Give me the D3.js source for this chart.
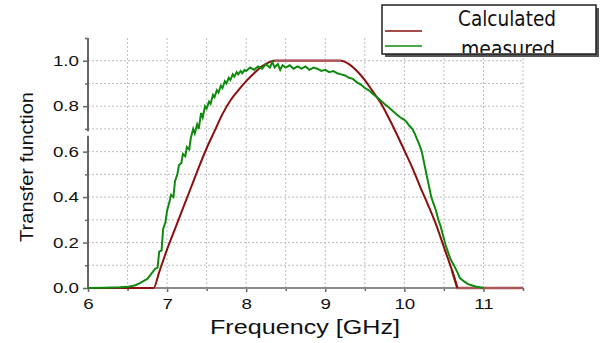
<!DOCTYPE html>
<html>
<head>
<meta charset="utf-8">
<script src="https://cdn.jsdelivr.net/npm/d3@7"></script>
<style>
  body { margin: 0; background: #fff; }
  svg { display: block; font-family: "Liberation Sans", Arial, sans-serif; }
</style>
</head>
<body>
<svg width="601" height="343"></svg>
<script>
// calculated transfer function (dark red)
const calcFreq = [6.0, 6.83, 6.9, 7.0, 7.1, 7.2, 7.3, 7.4, 7.5, 7.6, 7.7, 7.8, 7.9, 8.0, 8.1, 8.2, 8.3, 8.36,
  9.2, 9.3, 9.4, 9.5, 9.6, 9.7, 9.8, 9.9, 10.0, 10.1, 10.2, 10.3, 10.4, 10.5, 10.6, 10.67, 11.5];
const calcVal = [0, 0, 0.07, 0.17, 0.26, 0.35, 0.44, 0.53, 0.615, 0.69, 0.765, 0.825, 0.87, 0.91, 0.945, 0.975, 0.995, 1.0,
  1.0, 0.985, 0.955, 0.915, 0.865, 0.815, 0.75, 0.68, 0.605, 0.53, 0.445, 0.365, 0.28, 0.18, 0.08, 0, 0];

// measured transfer function (green)
const measFreq = [6.0, 6.2, 6.4, 6.5, 6.6, 6.65, 6.7, 6.75, 6.8, 6.85, 6.88, 6.9, 6.93, 6.95, 6.98, 7.0, 7.03, 7.05, 7.08, 7.1,
  7.13, 7.15, 7.18, 7.2, 7.23, 7.25, 7.28, 7.3, 7.33, 7.35, 7.38, 7.4, 7.43, 7.45, 7.48, 7.5, 7.53, 7.55, 7.58, 7.6,
  7.63, 7.65, 7.68, 7.7, 7.73, 7.75, 7.78, 7.8, 7.83, 7.85, 7.88, 7.9, 7.93, 7.95, 7.98, 8.0, 8.05, 8.1, 8.15, 8.2,
  8.25, 8.3, 8.33, 8.36, 8.4, 8.43, 8.46, 8.5, 8.55, 8.6, 8.65, 8.7, 8.75, 8.8, 8.85, 8.9, 8.95, 9.0, 9.05, 9.1,
  9.15, 9.2, 9.25, 9.3, 9.35, 9.4, 9.45, 9.5, 9.55, 9.6, 9.65, 9.7, 9.75, 9.8, 9.85, 9.9, 9.95, 10.0, 10.03, 10.06,
  10.1, 10.13, 10.16, 10.19, 10.22, 10.25, 10.28, 10.31, 10.34, 10.37, 10.4, 10.43, 10.46, 10.49, 10.52, 10.55, 10.58, 10.61, 10.64, 10.67,
  10.7, 10.75, 10.8, 10.85, 10.9, 10.95, 11.0];
const measVal = [0, 0.001, 0.003, 0.005, 0.012, 0.02, 0.03, 0.04, 0.062, 0.085, 0.09, 0.16, 0.165, 0.26, 0.29, 0.34, 0.38, 0.41, 0.40, 0.47,
  0.50, 0.54, 0.55, 0.59, 0.58, 0.62, 0.61, 0.66, 0.70, 0.68, 0.72, 0.70, 0.77, 0.75, 0.80, 0.79, 0.82, 0.81, 0.85, 0.84,
  0.87, 0.86, 0.89, 0.88, 0.91, 0.90, 0.925, 0.915, 0.94, 0.93, 0.95, 0.94, 0.955, 0.945, 0.96, 0.955, 0.97, 0.96, 0.975, 0.965,
  0.985, 0.97, 0.995, 0.97, 0.985, 0.96, 0.98, 0.97, 0.98, 0.965, 0.975, 0.965, 0.975, 0.96, 0.97, 0.965, 0.955, 0.96, 0.95, 0.955,
  0.945, 0.94, 0.935, 0.925, 0.92, 0.905, 0.895, 0.88, 0.87, 0.855, 0.84, 0.825, 0.81, 0.795, 0.78, 0.765, 0.75, 0.74, 0.73, 0.715,
  0.70, 0.68, 0.655, 0.63, 0.60, 0.55, 0.50, 0.45, 0.40, 0.37, 0.34, 0.30, 0.27, 0.23, 0.19, 0.16, 0.13, 0.11, 0.09, 0.07,
  0.045, 0.03, 0.018, 0.012, 0.007, 0.003, 0];

const xTicks = [6, 7, 8, 9, 10, 11];
const yTicks = [0.0, 0.2, 0.4, 0.6, 0.8, 1.0];
const legendLabels = ["Calculated", "measured"];

const svg = d3.select("svg");
const x = d3.scaleLinear().domain([6, 11.5]).range([88, 523]);
const y = d3.scaleLinear().domain([0, 1.1]).range([288, 38]);

// grid
const grid = svg.append("g").attr("stroke", "#bdbdbd").attr("stroke-width", 1).attr("stroke-dasharray", "2,2");
d3.range(6.5, 11.51, 0.5).forEach(v => {
  grid.append("line").attr("x1", x(v)).attr("x2", x(v)).attr("y1", y(1.1)).attr("y2", y(0));
});
d3.range(0.1, 1.01, 0.1).forEach(v => {
  grid.append("line").attr("x1", x(6)).attr("x2", x(11.5)).attr("y1", y(v)).attr("y2", y(v));
});

// axes
const xAxis = svg.append("g").attr("transform", `translate(0,${y(0)})`)
  .call(d3.axisBottom(x).tickValues(xTicks).tickFormat(d3.format("d")).tickSize(4).tickPadding(6));
const xMinor = svg.append("g").attr("transform", `translate(0,${y(0)})`)
  .call(d3.axisBottom(x).tickValues([6.5, 7.5, 8.5, 9.5, 10.5, 11.5]).tickFormat("").tickSize(3));
const yAxis = svg.append("g").attr("transform", `translate(${x(6)},0)`)
  .call(d3.axisLeft(y).tickValues(yTicks).tickFormat(d3.format(".1f")).tickSize(5).tickPadding(4));
const yMinor = svg.append("g").attr("transform", `translate(${x(6)},0)`)
  .call(d3.axisLeft(y).tickValues([0.1, 0.3, 0.5, 0.7, 0.9, 1.1]).tickFormat("").tickSize(3));

[xAxis, xMinor, yAxis, yMinor].forEach(g => {
  g.select(".domain").remove();
  g.selectAll(".tick line").attr("stroke", "#666").attr("stroke-width", 1.5);
  g.selectAll("text").attr("fill", "#111").attr("font-size", 15);
});
// tick labels in the picture are a bit wider than normal
[xAxis, yAxis].forEach(g => {
  g.selectAll(".tick text").each(function() {
    const w = this.getComputedTextLength();
    d3.select(this).attr("textLength", w * 1.25).attr("lengthAdjust", "spacingAndGlyphs");
  });
});

// axis lines, y axis has a small break between 0.6 and 0.8
svg.append("line").attr("x1", x(6)).attr("x2", x(11.5)).attr("y1", y(0)).attr("y2", y(0))
  .attr("stroke", "#8a8a8a").attr("stroke-width", 2);
svg.append("line").attr("x1", x(6)).attr("x2", x(6)).attr("y1", y(1.1)).attr("y2", y(0.69))
  .attr("stroke", "#666").attr("stroke-width", 2);
svg.append("line").attr("x1", x(6)).attr("x2", x(6)).attr("y1", y(0.67)).attr("y2", y(0))
  .attr("stroke", "#666").attr("stroke-width", 2);

// curves
const calc = calcFreq.map((f, i) => [f, calcVal[i]]);
const meas = measFreq.map((f, i) => [f, measVal[i]]);
const line = d3.line().x(d => x(d[0])).y(d => y(d[1]));

svg.append("path").datum(calc.filter(d => d[0] >= 10.6))
  .attr("fill", "none").attr("stroke", "#a85858").attr("stroke-width", 2.5)
  .attr("d", line);
svg.append("path").datum(calc.filter(d => d[0] <= 10.7))
  .attr("fill", "none").attr("stroke", "#8b0f0f").attr("stroke-width", 2)
  .attr("d", line.curve(d3.curveMonotoneX));
svg.append("path").datum(calc.filter(d => d[0] >= 8.36 && d[0] <= 9.2))
  .attr("fill", "none").attr("stroke", "#b05a64").attr("stroke-width", 2.5)
  .attr("d", d3.line().x(d => x(d[0])).y(d => y(d[1])));

svg.append("path").datum(meas)
  .attr("fill", "none").attr("stroke", "#0f8a0f").attr("stroke-width", 2)
  .attr("d", d3.line().x(d => x(d[0])).y(d => y(d[1])));

// axis titles
svg.append("text").attr("x", 305).attr("y", 334).attr("text-anchor", "middle")
  .attr("font-size", 20).attr("fill", "#111")
  .attr("textLength", 190).attr("lengthAdjust", "spacingAndGlyphs").text("Frequency [GHz]");
svg.append("text").attr("transform", "translate(33,167) rotate(-90)").attr("text-anchor", "middle")
  .attr("font-size", 18).attr("fill", "#111")
  .attr("textLength", 150).attr("lengthAdjust", "spacingAndGlyphs").text("Transfer function");

// legend
const lg = svg.append("g");
lg.append("rect").attr("x", 385).attr("y", 8).attr("width", 214).attr("height", 49).attr("fill", "#555");
lg.append("rect").attr("x", 382).attr("y", 5).attr("width", 214).attr("height", 49)
  .attr("fill", "#fff").attr("stroke", "#222").attr("stroke-width", 1.5);
svg.append("clipPath").attr("id", "lgclip").append("rect").attr("x", 382).attr("y", 5).attr("width", 214).attr("height", 48);
const lgColors = ["#8b0f0f", "#0f8a0f"];
legendLabels.forEach((t, i) => {
  lg.append("line").attr("x1", 385).attr("x2", 422).attr("y1", 31 + i * 15).attr("y2", 31 + i * 15)
    .attr("stroke", lgColors[i]).attr("stroke-width", 1.5);
  lg.append("text").attr("x", [458, 461][i]).attr("y", [26, 56][i])
    .attr("font-family", "'Liberation Sans Narrow', 'DejaVu Sans Condensed', sans-serif")
    .attr("font-size", 22).attr("fill", "#111")
    .attr("textLength", [98, 94][i]).attr("lengthAdjust", "spacingAndGlyphs")
    .attr("clip-path", "url(#lgclip)").text(t);
});
</script>
</body>
</html>
